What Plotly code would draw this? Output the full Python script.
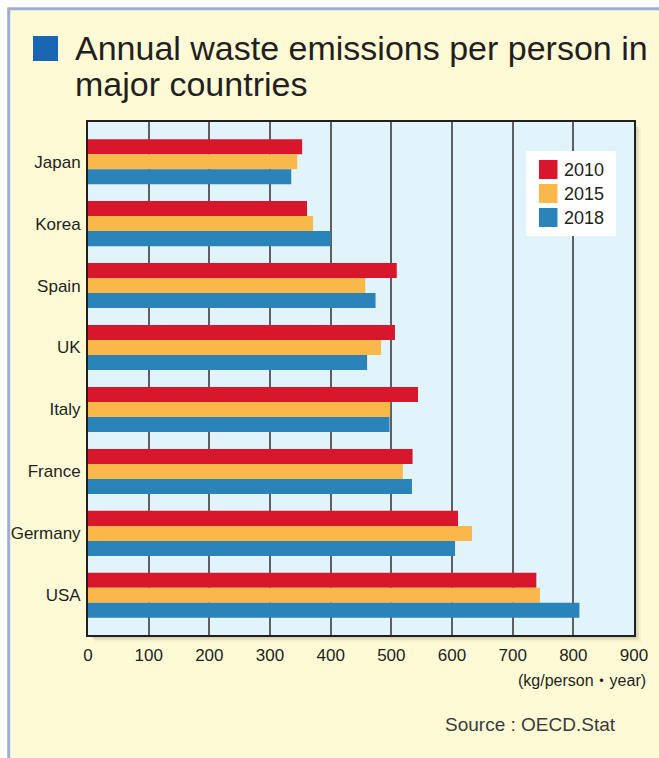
import plotly.graph_objects as go

# ---- data ----
countries = ["Japan", "Korea", "Spain", "UK", "Italy", "France", "Germany", "USA"]
years = ["2010", "2015", "2018"]
v2010 = [353, 361, 509, 506, 544, 535, 610, 739]
v2015 = [345, 371, 457, 483, 498, 519, 633, 745]
v2018 = [335, 400, 474, 460, 497, 534, 605, 810]
x_ticks = [0, 100, 200, 300, 400, 500, 600, 700, 800, 900]

title_lines = ["Annual waste emissions per person in", "major countries"]
unit_text = "(kg/person・year)"
source_text = "Source : OECD.Stat"

colors = ["#D7172B", "#FBB84A", "#2A84BA"]
series = [v2010, v2015, v2018]

W, H = 659, 758
L, R, T, B = 88, 634, 122, 635
FONT = "Liberation Sans, Arial, Noto Sans CJK JP, sans-serif"
TXT = "#231F20"


def px(x):
    return (x - L) / (R - L)


def py(y):
    return (B - y) / (B - T)


fig = go.Figure()
for name, vals, col in zip(years, series, colors):
    fig.add_trace(go.Bar(
        y=countries, x=vals, name=name, orientation="h",
        marker=dict(color=col, line=dict(width=0)),
        showlegend=False,
    ))

shapes = []
# page background with light-blue frame
shapes.append(dict(type="rect", xref="paper", yref="paper", layer="below",
                   x0=px(8.7), x1=px(720), y0=py(8.7), y1=py(820),
                   fillcolor="#FFFAD6", line=dict(color="#9DADDB", width=3)))
# drop shadow of plot area
for off, op in [(7, 0.05), (5, 0.07), (3.5, 0.09), (2, 0.12)]:
    shapes.append(dict(type="rect", xref="paper", yref="paper", layer="below",
                       x0=px(L + off), x1=px(R + off), y0=py(B + off), y1=py(T + off),
                       fillcolor=f"rgba(60,50,20,{op})", line=dict(width=0)))
# plot area background
shapes.append(dict(type="rect", xref="paper", yref="paper", layer="below",
                   x0=0, x1=1, y0=0, y1=1,
                   fillcolor="#E1F3FB", line=dict(width=0)))
# title square
shapes.append(dict(type="rect", xref="paper", yref="paper",
                   x0=px(33), x1=px(58), y0=py(61), y1=py(36),
                   fillcolor="#1A66B3", line=dict(width=0)))
# legend box
shapes.append(dict(type="rect", xref="paper", yref="paper",
                   x0=px(526), x1=px(616), y0=py(236), y1=py(151),
                   fillcolor="white", line=dict(width=0)))

annotations = []
row_tops = [160, 184, 208]
for name, col, top in zip(years, colors, row_tops):
    shapes.append(dict(type="rect", xref="paper", yref="paper",
                       x0=px(539), x1=px(557.5), y0=py(top + 19), y1=py(top),
                       fillcolor=col, line=dict(width=0)))
    annotations.append(dict(xref="paper", yref="paper", x=px(562), y=py(top + 9.5),
                            xanchor="left", yanchor="middle", showarrow=False,
                            text=name, font=dict(family=FONT, size=18, color=TXT)))

annotations.append(dict(xref="paper", yref="paper", x=px(73), y=py(48),
                        xanchor="left", yanchor="middle", showarrow=False,
                        text=title_lines[0], font=dict(family=FONT, size=34, color=TXT)))
annotations.append(dict(xref="paper", yref="paper", x=px(73), y=py(84),
                        xanchor="left", yanchor="middle", showarrow=False,
                        text=title_lines[1], font=dict(family=FONT, size=34, color=TXT)))
annotations.append(dict(xref="paper", yref="paper", x=px(648), y=py(680),
                        xanchor="right", yanchor="middle", showarrow=False,
                        text=unit_text, font=dict(family=FONT, size=16, color=TXT)))
annotations.append(dict(xref="paper", yref="paper", x=px(618), y=py(724),
                        xanchor="right", yanchor="middle", showarrow=False,
                        text=source_text, font=dict(family=FONT, size=19, color="#3a3a3a")))

fig.update_layout(
    width=W, height=H,
    margin=dict(l=L, r=W - R, t=T, b=H - B, pad=0, autoexpand=False),
    paper_bgcolor="white",
    plot_bgcolor="rgba(0,0,0,0)",
    barmode="group",
    bargap=0.273,
    bargroupgap=0,
    shapes=shapes,
    annotations=annotations,
    font=dict(family=FONT, size=17, color=TXT),
    xaxis=dict(range=[0, 900], tickvals=x_ticks, ticktext=[str(v) for v in x_ticks],
               showgrid=True, gridcolor="#5E5F62", gridwidth=1.5,
               showline=True, linecolor="#231F20", linewidth=2, mirror=True,
               zeroline=False, ticks="", ticklabelstandoff=4, automargin=False,
               tickfont=dict(family=FONT, size=17, color=TXT), fixedrange=True),
    yaxis=dict(type="category", categoryorder="array", categoryarray=countries,
               range=[7.64, -0.64], showgrid=False,
               showline=True, linecolor="#231F20", linewidth=2, mirror=True,
               zeroline=False, ticks="", ticklabelstandoff=2, automargin=False,
               tickfont=dict(family=FONT, size=17, color=TXT), fixedrange=True),
)

fig.write_html(
    "out.html",
    config={"displayModeBar": False},
    post_script="document.body.style.margin='0';document.body.style.overflow='hidden';",
)
